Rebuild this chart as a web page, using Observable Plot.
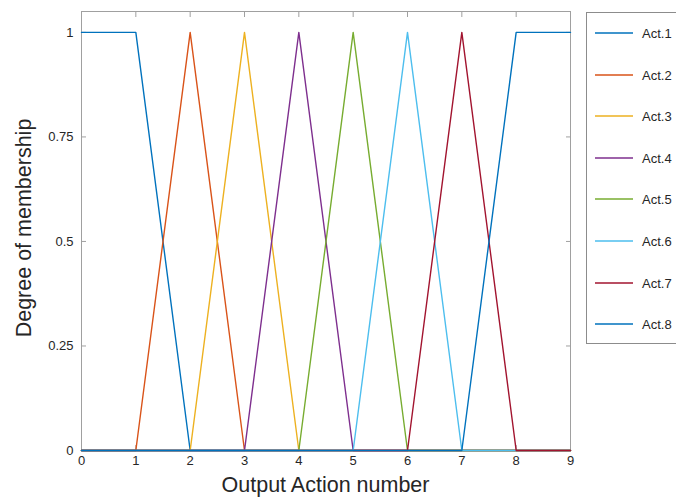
<!DOCTYPE html>
<html><head><meta charset="utf-8">
<script src="https://cdn.jsdelivr.net/npm/d3@7"></script>
<script src="https://cdn.jsdelivr.net/npm/@observablehq/plot@0.6"></script>
<style>
body{margin:0;overflow:hidden;background:#fff;font-family:"Liberation Sans",Arial,sans-serif}
#wrap{position:relative;width:676px;height:497px;overflow:hidden;background:#fff}
#wrap > svg{position:absolute;left:0;top:0}
.xlab{position:absolute;left:81px;width:489px;top:473px;text-align:center;font-size:21.5px;line-height:24px;color:#262626}
.ylab{position:absolute;left:24px;top:228px;font-size:21.5px;line-height:24px;color:#262626;transform:translate(-50%,-50%) rotate(-90deg);white-space:nowrap}
#legend{position:absolute;left:586px;top:12px;width:120px;height:332px;border:1px solid #8c8c8c;background:#fff;box-sizing:border-box}
.item{position:absolute;left:8px;height:16px;display:flex;align-items:center;font-size:13px;color:#262626}
.item svg{display:block;margin-right:9px}
</style></head><body><div id="wrap"></div>
<script>
const xs = [0,1,2,3,4,5,6,7,8,9];
const act1 = [1,1,0,0,0,0,0,0,0,0];
const act2 = [0,0,1,0,0,0,0,0,0,0];
const act3 = [0,0,0,1,0,0,0,0,0,0];
const act4 = [0,0,0,0,1,0,0,0,0,0];
const act5 = [0,0,0,0,0,1,0,0,0,0];
const act6 = [0,0,0,0,0,0,1,0,0,0];
const act7 = [0,0,0,0,0,0,0,1,0,0];
const act8 = [0,0,0,0,0,0,0,0,1,1];
const seriesNames = ["Act.1","Act.2","Act.3","Act.4","Act.5","Act.6","Act.7","Act.8"];
const seriesValues = [act1,act2,act3,act4,act5,act6,act7,act8];
const colors = ["#0072BD","#D95319","#EDB120","#7E2F8E","#77AC30","#4DBEEE","#A2142F","#0072BD"];
const xTicks = [0,1,2,3,4,5,6,7,8,9];
const yTicks = [0,0.25,0.5,0.75,1];

const data = [];
seriesNames.forEach((s,i)=>xs.forEach((x,j)=>data.push({s, x, y: seriesValues[i][j]})));

const axisStroke = "#a0a0a0";
const chart = Plot.plot({
  width:676, height:497,
  marginLeft:81, marginRight:106, marginTop:11, marginBottom:47,
  x:{domain:[0,9]},
  y:{domain:[0,1.05]},
  color:{domain:seriesNames, range:colors},
  style:{fontSize:"13px", fontFamily:'"Liberation Sans", Arial, sans-serif', color:"#262626", background:"white", overflow:"visible"},
  marks:[
    Plot.frame({stroke:axisStroke}),
    Plot.axisX(xTicks,{anchor:"bottom", tickSize:-5, tickPadding:10, tickFormat:d=>String(d), label:null, stroke:axisStroke, fill:"#262626"}),
    Plot.axisX(xTicks,{anchor:"top", tickSize:-5, tickFormat:()=>"", label:null, stroke:axisStroke}),
    Plot.axisY(yTicks,{anchor:"left", tickSize:-5, tickPadding:13, tickFormat:d=>String(d), label:null, stroke:axisStroke, fill:"#262626"}),
    Plot.axisY(yTicks,{anchor:"right", tickSize:-5, tickFormat:()=>"", label:null, stroke:axisStroke}),
    Plot.line(data,{x:"x", y:"y", z:"s", stroke:"s", strokeWidth:1.4})
  ]
});
const wrap = document.getElementById("wrap");
wrap.appendChild(chart);
const xl = document.createElement("div"); xl.className="xlab"; xl.textContent="Output Action number"; wrap.appendChild(xl);
const yl = document.createElement("div"); yl.className="ylab"; yl.textContent="Degree of membership"; wrap.appendChild(yl);
const leg = document.createElement("div"); leg.id="legend";
const NS = "http://www.w3.org/2000/svg";
seriesNames.forEach((s,i)=>{
  const it = document.createElement("div"); it.className="item"; it.style.top=Math.round(12 + i*41.6)+"px";
  const sv = document.createElementNS(NS,"svg"); sv.setAttribute("width","38"); sv.setAttribute("height","16");
  const ln = document.createElementNS(NS,"line");
  ln.setAttribute("x1","0"); ln.setAttribute("x2","38"); ln.setAttribute("y1","8"); ln.setAttribute("y2","8");
  ln.setAttribute("stroke",colors[i]); ln.setAttribute("stroke-width","1.5");
  sv.appendChild(ln);
  it.appendChild(sv); it.appendChild(document.createTextNode(s)); leg.appendChild(it);
});
wrap.appendChild(leg);
</script></body></html>
